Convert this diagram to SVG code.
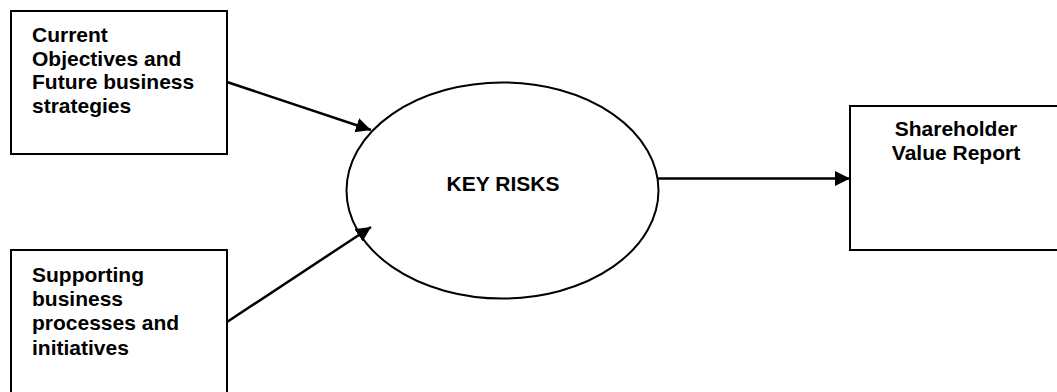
<svg xmlns="http://www.w3.org/2000/svg" width="1057" height="392" viewBox="0 0 1057 392">
<style>
.box{fill:#fff;stroke:#000;stroke-width:2}
.ell{fill:#fff;stroke:#000;stroke-width:2}
.lbl{font-family:"Liberation Sans",Arial,sans-serif;font-weight:bold;font-size:21px;fill:#000}
.conn{stroke:#000;stroke-width:2.5;fill:none;marker-end:url(#ah)}
</style>
<defs>
<marker id="ah" markerUnits="userSpaceOnUse" markerWidth="16" markerHeight="16" refX="15" refY="7.5" orient="auto" viewBox="0 0 16 16">
<path d="M0,0 L15,7.5 L0,15 z" fill="#000"/>
</marker>
</defs>
<rect width="1057" height="392" fill="#fff"/>
<g id="node-objectives">
<rect class="box" x="11" y="11" width="216" height="143"/>
<text class="lbl" x="32" y="42">Current</text>
<text class="lbl" x="32" y="65.5">Objectives and</text>
<text class="lbl" x="32" y="89">Future business</text>
<text class="lbl" x="32" y="112.5">strategies</text>
</g>
<g id="node-processes">
<rect class="box" x="11" y="250" width="216" height="160"/>
<text class="lbl" x="32" y="282">Supporting</text>
<text class="lbl" x="32" y="306">business</text>
<text class="lbl" x="32" y="330">processes and</text>
<text class="lbl" x="32" y="355">initiatives</text>
</g>
<g id="node-keyrisks">
<ellipse class="ell" cx="502.5" cy="190.5" rx="156" ry="108"/>
<text class="lbl" x="503" y="191" text-anchor="middle">KEY RISKS</text>
</g>
<g id="node-report">
<rect class="box" x="850" y="106" width="220" height="144"/>
<text class="lbl" x="956" y="136" text-anchor="middle">Shareholder</text>
<text class="lbl" x="956" y="160" text-anchor="middle">Value Report</text>
</g>
<g id="connectors">
<line class="conn" x1="227" y1="82" x2="371" y2="130"/>
<line class="conn" x1="227" y1="322" x2="371" y2="227"/>
<line class="conn" x1="658" y1="178.5" x2="850" y2="178.5"/>
</g>
</svg>
